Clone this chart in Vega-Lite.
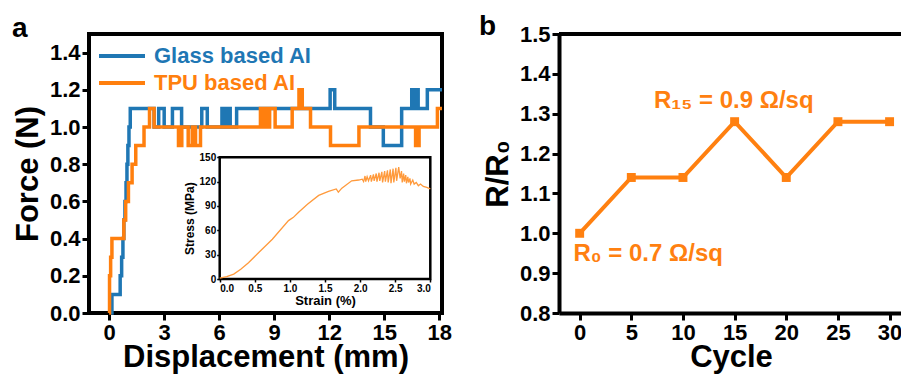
{
  "$schema": "https://vega.github.io/schema/vega-lite/v6.json",
  "padding": {"left": 10, "top": 13, "right": 0, "bottom": 0},
  "background": "white",
  "bounds": "flush",
  "spacing": 117,
  "datasets": {
    "force": [
      {"series": "Glass based AI", "d": 0.1, "F": 0},
      {"series": "Glass based AI", "d": 0.15, "F": 0.1},
      {"series": "Glass based AI", "d": 0.6, "F": 0.2},
      {"series": "Glass based AI", "d": 0.68, "F": 0.3},
      {"series": "Glass based AI", "d": 0.75, "F": 0.4},
      {"series": "Glass based AI", "d": 0.8, "F": 0.5},
      {"series": "Glass based AI", "d": 0.86, "F": 0.6},
      {"series": "Glass based AI", "d": 0.92, "F": 0.7},
      {"series": "Glass based AI", "d": 0.97, "F": 0.8},
      {"series": "Glass based AI", "d": 1.02, "F": 0.9},
      {"series": "Glass based AI", "d": 1.08, "F": 1.0},
      {"series": "Glass based AI", "d": 1.15, "F": 1.1},
      {"series": "Glass based AI", "d": 2.45, "F": 1.0},
      {"series": "Glass based AI", "d": 2.7, "F": 1.1},
      {"series": "Glass based AI", "d": 3.0, "F": 1.0},
      {"series": "Glass based AI", "d": 3.45, "F": 1.1},
      {"series": "Glass based AI", "d": 3.95, "F": 1.0},
      {"series": "Glass based AI", "d": 5.05, "F": 1.1},
      {"series": "Glass based AI", "d": 5.35, "F": 1.0},
      {"series": "Glass based AI", "d": 6.15, "F": 1.1},
      {"series": "Glass based AI", "d": 6.3, "F": 1.0},
      {"series": "Glass based AI", "d": 6.45, "F": 1.1},
      {"series": "Glass based AI", "d": 6.6, "F": 1.0},
      {"series": "Glass based AI", "d": 6.95, "F": 1.1},
      {"series": "Glass based AI", "d": 12.05, "F": 1.2},
      {"series": "Glass based AI", "d": 12.3, "F": 1.1},
      {"series": "Glass based AI", "d": 14.25, "F": 1.0},
      {"series": "Glass based AI", "d": 14.95, "F": 0.9},
      {"series": "Glass based AI", "d": 15.95, "F": 1.1},
      {"series": "Glass based AI", "d": 16.5, "F": 1.2},
      {"series": "Glass based AI", "d": 16.6, "F": 1.1},
      {"series": "Glass based AI", "d": 16.7, "F": 1.2},
      {"series": "Glass based AI", "d": 16.85, "F": 1.1},
      {"series": "Glass based AI", "d": 17.35, "F": 1.2},
      {"series": "Glass based AI", "d": 18.15, "F": 1.2},
      {"series": "TPU based AI", "d": 0.0, "F": 0},
      {"series": "TPU based AI", "d": 0.02, "F": 0.2},
      {"series": "TPU based AI", "d": 0.08, "F": 0.3},
      {"series": "TPU based AI", "d": 0.15, "F": 0.4},
      {"series": "TPU based AI", "d": 0.8, "F": 0.5},
      {"series": "TPU based AI", "d": 0.9, "F": 0.6},
      {"series": "TPU based AI", "d": 1.05, "F": 0.7},
      {"series": "TPU based AI", "d": 1.25, "F": 0.8},
      {"series": "TPU based AI", "d": 1.45, "F": 0.9},
      {"series": "TPU based AI", "d": 1.9, "F": 1.0},
      {"series": "TPU based AI", "d": 2.2, "F": 1.1},
      {"series": "TPU based AI", "d": 2.45, "F": 1.0},
      {"series": "TPU based AI", "d": 3.78, "F": 0.9},
      {"series": "TPU based AI", "d": 3.96, "F": 1.0},
      {"series": "TPU based AI", "d": 4.31, "F": 0.9},
      {"series": "TPU based AI", "d": 4.53, "F": 1.0},
      {"series": "TPU based AI", "d": 4.71, "F": 0.9},
      {"series": "TPU based AI", "d": 4.98, "F": 1.0},
      {"series": "TPU based AI", "d": 8.25, "F": 1.1},
      {"series": "TPU based AI", "d": 8.4, "F": 1.0},
      {"series": "TPU based AI", "d": 8.5, "F": 1.1},
      {"series": "TPU based AI", "d": 8.6, "F": 1.0},
      {"series": "TPU based AI", "d": 8.75, "F": 1.1},
      {"series": "TPU based AI", "d": 9.05, "F": 1.0},
      {"series": "TPU based AI", "d": 9.98, "F": 1.1},
      {"series": "TPU based AI", "d": 10.35, "F": 1.2},
      {"series": "TPU based AI", "d": 10.53, "F": 1.1},
      {"series": "TPU based AI", "d": 10.98, "F": 1.0},
      {"series": "TPU based AI", "d": 12.07, "F": 0.9},
      {"series": "TPU based AI", "d": 13.62, "F": 1.0},
      {"series": "TPU based AI", "d": 16.71, "F": 0.9},
      {"series": "TPU based AI", "d": 16.9, "F": 1.0},
      {"series": "TPU based AI", "d": 17.9, "F": 1.1},
      {"series": "TPU based AI", "d": 18.15, "F": 1.1}
    ],
    "stress": [
      {"strain": 0.0, "stress": 1}, {"strain": 0.1, "stress": 3}, {"strain": 0.2, "stress": 6},
      {"strain": 0.3, "stress": 12}, {"strain": 0.41, "stress": 20}, {"strain": 0.56, "stress": 33},
      {"strain": 0.75, "stress": 49}, {"strain": 0.98, "stress": 72}, {"strain": 1.05, "stress": 76},
      {"strain": 1.12, "stress": 82}, {"strain": 1.25, "stress": 92}, {"strain": 1.41, "stress": 103},
      {"strain": 1.55, "stress": 108}, {"strain": 1.66, "stress": 111}, {"strain": 1.69, "stress": 107},
      {"strain": 1.74, "stress": 112}, {"strain": 1.88, "stress": 121}, {"strain": 1.98, "stress": 122},
      {"strain": 2.03, "stress": 123}, {"strain": 2.05, "stress": 120}, {"strain": 2.07, "stress": 127},
      {"strain": 2.08, "stress": 120}, {"strain": 2.1, "stress": 126}, {"strain": 2.12, "stress": 121},
      {"strain": 2.15, "stress": 128}, {"strain": 2.16, "stress": 120}, {"strain": 2.19, "stress": 129},
      {"strain": 2.2, "stress": 121}, {"strain": 2.23, "stress": 130}, {"strain": 2.24, "stress": 120},
      {"strain": 2.27, "stress": 131}, {"strain": 2.28, "stress": 121}, {"strain": 2.31, "stress": 132},
      {"strain": 2.32, "stress": 119}, {"strain": 2.35, "stress": 133}, {"strain": 2.36, "stress": 120},
      {"strain": 2.39, "stress": 134}, {"strain": 2.4, "stress": 119}, {"strain": 2.43, "stress": 135},
      {"strain": 2.44, "stress": 118}, {"strain": 2.47, "stress": 136}, {"strain": 2.48, "stress": 119},
      {"strain": 2.51, "stress": 137}, {"strain": 2.52, "stress": 121}, {"strain": 2.55, "stress": 138},
      {"strain": 2.57, "stress": 124}, {"strain": 2.59, "stress": 133}, {"strain": 2.6, "stress": 119},
      {"strain": 2.62, "stress": 130}, {"strain": 2.63, "stress": 120}, {"strain": 2.65, "stress": 128},
      {"strain": 2.66, "stress": 118}, {"strain": 2.68, "stress": 126}, {"strain": 2.69, "stress": 119},
      {"strain": 2.71, "stress": 124}, {"strain": 2.72, "stress": 117}, {"strain": 2.75, "stress": 122},
      {"strain": 2.77, "stress": 117}, {"strain": 2.8, "stress": 119}, {"strain": 2.83, "stress": 115},
      {"strain": 2.86, "stress": 117}, {"strain": 2.9, "stress": 114}, {"strain": 2.95, "stress": 113},
      {"strain": 3.0, "stress": 111}
    ],
    "cycle": [
      {"cycle": 0, "r": 1.0}, {"cycle": 5, "r": 1.14}, {"cycle": 10, "r": 1.14},
      {"cycle": 15, "r": 1.28}, {"cycle": 20, "r": 1.14}, {"cycle": 25, "r": 1.28}, {"cycle": 30, "r": 1.28}
    ],
    "frame": [{"s0": 0, "s1": 3, "t0": 0, "t1": 150}],
    "one": [{}]
  },
  "hconcat": [
    {
      "width": 353,
      "height": 279,
      "view": {"stroke": "black", "strokeWidth": 4},
      "title": {"text": "a", "anchor": "start", "frame": "group", "dx": -77, "offset": -31, "baseline": "alphabetic", "fontSize": 28, "fontWeight": "bold", "font": "Liberation Sans", "color": "black"},
      "layer": [
        {
          "data": {"name": "force"},
          "mark": {"type": "line", "interpolate": "step-after", "strokeWidth": 3.5},
          "encoding": {
            "x": {"field": "d", "type": "quantitative", "scale": {"domain": [-1.1, 18.15], "nice": false, "zero": false},
                  "axis": {"values": [0, 3, 6, 9, 12, 15, 18], "title": "Displacement (mm)", "domain": false, "titleY": 53, "titleBaseline": "alphabetic"}},
            "y": {"field": "F", "type": "quantitative", "scale": {"domain": [0, 1.5], "nice": false},
                  "axis": {"values": [0, 0.2, 0.4, 0.6, 0.8, 1.0, 1.2, 1.4], "format": ".1f", "title": "Force (N)", "domain": false, "titlePadding": 5}},
            "color": {"field": "series", "type": "nominal",
                      "scale": {"domain": ["Glass based AI", "TPU based AI"], "range": ["#1f77b4", "#ff7f0e"]},
                      "legend": {"orient": "none", "legendX": 8, "legendY": 8.5, "title": null, "symbolType": "stroke",
                                 "symbolSize": 2116, "symbolStrokeWidth": 4, "labelFontSize": 22, "labelFontWeight": "bold",
                                 "labelFont": "Liberation Sans", "labelOffset": 7, "rowPadding": 0, "clipHeight": 27, "padding": 0,
                                 "encode": {"labels": {"update": {"fill": [{"test": "datum.value === 'Glass based AI'", "value": "#1f77b4"}, {"value": "#ff7f0e"}]}}}}}
          }
        },
        {
          "layer": [
            {
              "data": {"name": "frame"},
              "mark": {"type": "rect", "fill": "white", "stroke": "black", "strokeWidth": 2.5},
              "encoding": {
                "x": {"field": "s0", "type": "quantitative", "scale": {"domain": [0, 3], "range": [130.7, 341.3], "nice": false, "zero": false},
                      "axis": {"values": [0, 0.5, 1, 1.5, 2, 2.5, 3], "format": ".1f", "title": "Strain (%)", "orient": "bottom", "offset": -34,
                               "domain": false, "labelFontSize": 10, "tickSize": 3, "tickWidth": 1.5, "labelPadding": 1, "titleFontSize": 13, "titlePadding": 1}},
                "x2": {"field": "s1"},
                "y": {"field": "t0", "type": "quantitative", "scale": {"domain": [0, 150], "range": [245, 123.3], "nice": false},
                      "axis": {"values": [0, 30, 60, 90, 120, 150], "title": "Stress (MPa)", "orient": "left", "offset": -130.7,
                               "domain": false, "labelFontSize": 10, "tickSize": 3, "tickWidth": 1.5, "labelPadding": 1, "titleFontSize": 12, "titlePadding": 3}},
                "y2": {"field": "t1"}
              }
            },
            {
              "data": {"name": "stress"},
              "mark": {"type": "line", "color": "#ff9a3c", "strokeWidth": 1.3},
              "encoding": {
                "x": {"field": "strain", "type": "quantitative"},
                "y": {"field": "stress", "type": "quantitative"}
              }
            }
          ]
        }
      ],
      "resolve": {"scale": {"x": "independent", "y": "independent", "color": "independent"}, "axis": {"x": "independent", "y": "independent"}}
    },
    {
      "width": 344,
      "height": 279,
      "title": {"text": "b", "anchor": "start", "frame": "group", "dx": -80, "offset": -40, "baseline": "alphabetic", "fontSize": 28, "fontWeight": "bold", "font": "Liberation Sans", "color": "black"},
      "layer": [
        {
          "data": {"name": "cycle"},
          "mark": {"type": "line", "color": "#ff8010", "strokeWidth": 4, "point": {"shape": "square", "filled": true, "size": 80, "color": "#ff8010", "opacity": 1}},
          "encoding": {
            "x": {"field": "cycle", "type": "quantitative", "scale": {"domain": [-2, 31.3], "nice": false, "zero": false},
                  "axis": {"values": [0, 5, 10, 15, 20, 25, 30], "title": "Cycle", "titleY": 53, "titleBaseline": "alphabetic"}},
            "y": {"field": "r", "type": "quantitative", "scale": {"domain": [0.8, 1.5], "nice": false, "zero": false},
                  "axis": {"values": [0.8, 0.9, 1.0, 1.1, 1.2, 1.3, 1.4, 1.5], "format": ".1f", "title": "R/R₀", "titlePadding": 5}}
          }
        },
        {
          "data": {"name": "one"},
          "mark": {"type": "rule", "color": "black", "strokeWidth": 4},
          "encoding": {"y": {"datum": 1.5, "type": "quantitative", "scale": {"domain": [0.8, 1.5], "nice": false, "zero": false},
                  "axis": {"values": [0.8, 0.9, 1.0, 1.1, 1.2, 1.3, 1.4, 1.5], "format": ".1f", "title": "R/R₀", "titlePadding": 5}}}
        },
        {
          "data": {"name": "one"},
          "mark": {"type": "text", "align": "left", "baseline": "alphabetic", "fontSize": 24, "fontWeight": "bold", "font": "Liberation Sans", "color": "#ff8010"},
          "encoding": {
            "x": {"datum": 7.2, "type": "quantitative", "scale": {"domain": [-2, 31.3], "nice": false, "zero": false},
                  "axis": {"values": [0, 5, 10, 15, 20, 25, 30], "title": "Cycle", "titleY": 53, "titleBaseline": "alphabetic"}},
            "y": {"datum": 1.315, "type": "quantitative", "scale": {"domain": [0.8, 1.5], "nice": false, "zero": false},
                  "axis": {"values": [0.8, 0.9, 1.0, 1.1, 1.2, 1.3, 1.4, 1.5], "format": ".1f", "title": "R/R₀", "titlePadding": 5}},
            "text": {"value": "R₁₅ = 0.9 Ω/sq"}}
        },
        {
          "data": {"name": "one"},
          "mark": {"type": "text", "align": "left", "baseline": "alphabetic", "fontSize": 24, "fontWeight": "bold", "font": "Liberation Sans", "color": "#ff8010"},
          "encoding": {
            "x": {"datum": -0.6, "type": "quantitative", "scale": {"domain": [-2, 31.3], "nice": false, "zero": false},
                  "axis": {"values": [0, 5, 10, 15, 20, 25, 30], "title": "Cycle", "titleY": 53, "titleBaseline": "alphabetic"}},
            "y": {"datum": 0.93, "type": "quantitative", "scale": {"domain": [0.8, 1.5], "nice": false, "zero": false},
                  "axis": {"values": [0.8, 0.9, 1.0, 1.1, 1.2, 1.3, 1.4, 1.5], "format": ".1f", "title": "R/R₀", "titlePadding": 5}},
            "text": {"value": "R₀ = 0.7 Ω/sq"}}
        }
      ]
    }
  ],
  "config": {
    "font": "Liberation Sans",
    "view": {"stroke": null},
    "axis": {
      "labelFont": "Liberation Sans", "labelFontWeight": "bold", "labelFontSize": 22, "labelColor": "black",
      "titleFont": "Liberation Sans", "titleFontWeight": "bold", "titleFontSize": 31, "titleColor": "black",
      "domainColor": "black", "domainWidth": 4, "tickColor": "black", "tickWidth": 3, "tickSize": 7,
      "grid": false, "labelPadding": 2, "titlePadding": 4, "labelOverlap": false
    }
  }
}
